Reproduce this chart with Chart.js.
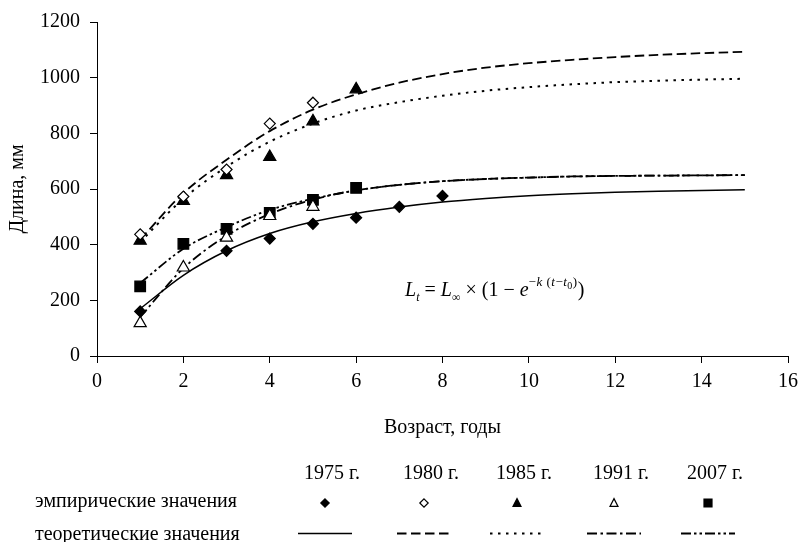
<!DOCTYPE html>
<html>
<head>
<meta charset="utf-8">
<script src="https://cdn.jsdelivr.net/npm/chart.js@4.4.1/dist/chart.umd.min.js"></script>
<style>
html, body { margin: 0; padding: 0; background: #fff; }
#wrap { position: relative; width: 805px; height: 542px; overflow: hidden; }
#c { position: absolute; left: 0; top: 0; }
#formula { position: absolute; left: 405px; top: 270px; font: 20px 'Liberation Serif', 'Times New Roman', serif; white-space: nowrap; color: #000; line-height: 24px; }
#formula i { font-style: italic; }
#formula .sb { font-size: 12px; vertical-align: -5px; }
#formula .sp { font-size: 13px; vertical-align: 10px; letter-spacing: 0.5px; }
#formula .sp .sb2 { font-size: 10px; vertical-align: -3px; }
</style>
</head>
<body>
<div id="wrap">
  <canvas id="c" width="805" height="542" style="width:805px;height:542px"></canvas>
  <div id="formula"><i>L</i><span class="sb"><i>t</i></span> = <i>L</i><span class="sb">∞</span> × (1 − <i>e</i><span class="sp">−<i>k</i> (<i>t</i>−<i>t</i><span class="sb2">0</span>)</span>)</div>
</div>
<script>
// ---- data ----
const theoAges = [1, 2, 3, 4, 5, 6, 7, 8, 9, 10, 11, 12, 13, 14, 15];
const theo1975 = [170, 290, 378, 440, 482, 512, 535, 553, 566, 576, 583, 588, 592, 595, 597];
const theo1980 = [418, 585, 705, 808, 885, 940, 982, 1013, 1036, 1052, 1064, 1074, 1082, 1088, 1093];
const theo1985 = [410, 565, 680, 770, 835, 882, 912, 935, 953, 966, 976, 984, 989, 993, 996];
const theo1991 = [140, 315, 432, 510, 562, 595, 615, 628, 636, 641, 645, 647, 648, 649, 650];
const theo2007 = [262, 385, 463, 525, 565, 595, 615, 628, 636, 641, 645, 647, 648, 649, 650];

const empAges1975 = [1, 3, 4, 5, 6, 7, 8];
const emp1975 = [160, 378, 422, 475, 497, 536, 575];
const empAges1980 = [1, 2, 3, 4, 5];
const emp1980 = [437, 573, 670, 835, 910];
const empAges1985 = [1, 2, 3, 4, 5, 6];
const emp1985 = [414, 557, 650, 715, 843, 958];
const empAges1991 = [1, 2, 3, 4, 5];
const emp1991 = [118, 318, 425, 503, 536];
const empAges2007 = [1, 2, 3, 4, 5, 6];
const emp2007 = [250, 403, 457, 514, 561, 604];

const yearLabels = ['1975 г.', '1980 г.', '1985 г.', '1991 г.', '2007 г.'];
const rowLabels = ['эмпирические значения', 'теоретические значения'];
const xTitle = 'Возраст, годы';
const yTitle = 'Длина, мм';

// ---- styles ----
const FONT = "'Liberation Serif', 'Times New Roman', serif";
const pts = (xs, ys) => xs.map((x, i) => ({ x: x, y: ys[i] }));

const theoStyles = [
  { dash: [], width: 1.5 },
  { dash: [9.5, 4.5], width: 1.8 },
  { dash: [2.5, 5.5], width: 2 },
  { dash: [10, 3.5, 2.5, 3.5], width: 1.8 },
  { dash: [10, 3, 2.5, 3, 2.5, 3], width: 1.8 }
];
const empStyles = [
  { style: 'rectRot', fill: '#000', r: 5.5 },
  { style: 'rectRot', fill: '#fff', r: 5.5 },
  { style: 'triangle', fill: '#000', r: 7 },
  { style: 'triangle', fill: '#fff', r: 7 },
  { style: 'rect', fill: '#000', r: 7.5 }
];

const theoSeries = [theo1975, theo1980, theo1985, theo1991, theo2007];
const empSeries = [
  pts(empAges1975, emp1975), pts(empAges1980, emp1980), pts(empAges1985, emp1985),
  pts(empAges1991, emp1991), pts(empAges2007, emp2007)
];

const datasets = [];
theoSeries.forEach((s, i) => {
  datasets.push({
    label: 'theo ' + yearLabels[i],
    data: pts(theoAges, s),
    showLine: true,
    borderColor: '#000',
    borderWidth: theoStyles[i].width,
    borderDash: theoStyles[i].dash,
    pointRadius: 0,
    cubicInterpolationMode: 'monotone',
    fill: false,
    order: 2
  });
});
empSeries.forEach((s, i) => {
  datasets.push({
    label: 'emp ' + yearLabels[i],
    data: s,
    showLine: false,
    pointStyle: empStyles[i].style,
    pointRadius: empStyles[i].r,
    pointBackgroundColor: empStyles[i].fill,
    pointBorderColor: '#000',
    pointBorderWidth: 1.2,
    order: 1
  });
});

// legend columns (layout)
const legendCols = [325, 424, 517, 614, 708];

function drawMarker(ctx, style, fill, x, y, r) {
  ctx.fillStyle = fill;
  ctx.strokeStyle = '#000';
  ctx.lineWidth = 1.2;
  ctx.beginPath();
  if (style === 'rectRot') {
    ctx.moveTo(x, y - r); ctx.lineTo(x + r, y); ctx.lineTo(x, y + r); ctx.lineTo(x - r, y);
  } else if (style === 'triangle') {
    const h = r * 1.6;
    ctx.moveTo(x, y - h / 2 - 1); ctx.lineTo(x + r * 0.95, y + h / 2); ctx.lineTo(x - r * 0.95, y + h / 2);
  } else {
    ctx.rect(x - r, y - r, 2 * r, 2 * r);
  }
  ctx.closePath();
  ctx.fill();
  ctx.stroke();
}

const tableLegend = {
  id: 'tableLegend',
  afterDraw(chart) {
    const ctx = chart.ctx;
    ctx.save();
    ctx.font = '20px ' + FONT;
    ctx.fillStyle = '#000';
    ctx.textBaseline = 'middle';
    ctx.textAlign = 'center';
    legendCols.forEach((cx, i) => ctx.fillText(yearLabels[i], cx + 7, 474));
    ctx.textAlign = 'left';
    ctx.fillText(rowLabels[0], 35, 502);
    ctx.fillText(rowLabels[1], 35, 535);
    legendCols.forEach((cx, i) => {
      const st = empStyles[i];
      drawMarker(ctx, st.style, st.fill, cx, 503, st.style === 'rect' ? 4 : 4.2);
    });
    legendCols.forEach((cx, i) => {
      ctx.beginPath();
      ctx.setLineDash(theoStyles[i].dash);
      ctx.lineWidth = theoStyles[i].width;
      ctx.strokeStyle = '#000';
      ctx.moveTo(cx - 27, 533.5);
      ctx.lineTo(cx + 27, 533.5);
      ctx.stroke();
    });
    ctx.restore();
  }
};

new Chart(document.getElementById('c'), {
  type: 'scatter',
  data: { datasets: datasets },
  plugins: [tableLegend],
  options: {
    responsive: false,
    animation: false,
    events: [],
    layout: { padding: { left: 0, right: 12, top: 20, bottom: 102 } },
    plugins: { legend: { display: false }, tooltip: { enabled: false } },
    scales: {
      x: {
        type: 'linear',
        min: 0, max: 16,
        afterFit: (s) => { s.height = 84; },
        ticks: { stepSize: 2, color: '#000', font: { family: FONT, size: 20 }, padding: 7, maxRotation: 0, callback: (v) => String(v) },
        grid: { display: true, drawOnChartArea: false, drawTicks: true, tickLength: 7, color: '#000', lineWidth: 1 },
        border: { display: true, color: '#000', width: 1 },
        title: { display: true, text: xTitle, color: '#000', font: { family: FONT, size: 20 }, padding: { top: 0, bottom: 0 } }
      },
      y: {
        min: 0, max: 1200,
        afterFit: (s) => { s.width = 97; },
        ticks: { stepSize: 200, color: '#000', font: { family: FONT, size: 20 }, padding: 10, callback: (v) => String(v) },
        grid: { display: true, drawOnChartArea: false, drawTicks: true, tickLength: 7, color: '#000', lineWidth: 1 },
        border: { display: true, color: '#000', width: 1 },
        title: { display: true, text: yTitle, color: '#000', font: { family: FONT, size: 20 }, padding: { top: 6, bottom: 0 } }
      }
    }
  }
});
</script>
</body>
</html>
